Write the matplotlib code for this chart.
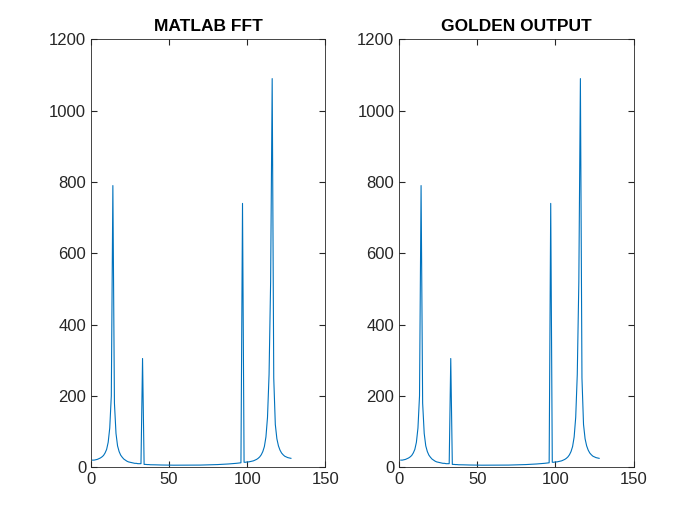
import matplotlib
matplotlib.use("Agg")
import matplotlib.pyplot as plt

plt.rcParams['font.family'] = ['Liberation Sans', 'DejaVu Sans']

seg1 = [20, 20, 21, 22, 24, 26, 29, 33, 40, 50, 70, 110, 200]
pk1 = [790]
seg2 = [180, 95, 60, 44, 34, 28, 23, 20, 17, 15, 14, 13, 12, 11, 11, 10, 10, 10]
pk2 = [305]
seg3 = [8, 8, 7.5, 7.5, 7, 7, 7, 6.8, 6.6, 6.5, 6.4, 6.3, 6.2, 6.1, 6, 6, 5.9, 5.9, 5.8, 5.8,
        5.8, 5.7, 5.7, 5.7, 5.7, 5.7, 5.7, 5.7, 5.7, 5.8, 5.8, 5.8, 5.9, 5.9, 6, 6, 6.1, 6.2,
        6.3, 6.4, 6.5, 6.6, 6.7, 6.8, 7, 7.1, 7.3, 7.5, 7.7, 7.9, 8.1, 8.3, 8.6, 8.9, 9.2,
        9.5, 9.8, 10.2, 10.6, 11, 11.5, 12, 12.5]
pk3 = [740]
seg4 = [14, 14, 15, 15, 16, 17, 18, 20, 22, 25, 29, 35, 44, 58, 85, 140, 260, 520]
pk4 = [1090]
seg5 = [250, 120, 80, 60, 48, 40, 35, 31, 29, 27, 26, 25]

mag = seg1 + pk1 + seg2 + pk2 + seg3 + pk3 + seg4 + pk4 + seg5
idx = list(range(1, len(mag) + 1))
titles = ["MATLAB FFT", "GOLDEN OUTPUT"]

fig = plt.figure(figsize=(7, 5.25), dpi=100)
lefts = [0.13, 0.5703]
for left, t in zip(lefts, titles):
    ax = fig.add_axes([left, 0.11, 0.3347, 0.815])
    ax.plot(idx, mag, color='#0072BD', lw=0.8)
    ax.set_xlim(0, 150)
    ax.set_ylim(0, 1200)
    ax.set_xticks([0, 50, 100, 150])
    ax.set_yticks(range(0, 1201, 200))
    ax.tick_params(direction='in', labelsize=12, length=4, top=True, right=True,
                   labeltop=False, labelright=False, colors='#262626')
    ax.set_title(t, fontweight='bold', fontsize=12.5)
    for s in ax.spines.values():
        s.set_linewidth(0.6)
        s.set_color('#262626')

fig.savefig("out.png", dpi=100)
